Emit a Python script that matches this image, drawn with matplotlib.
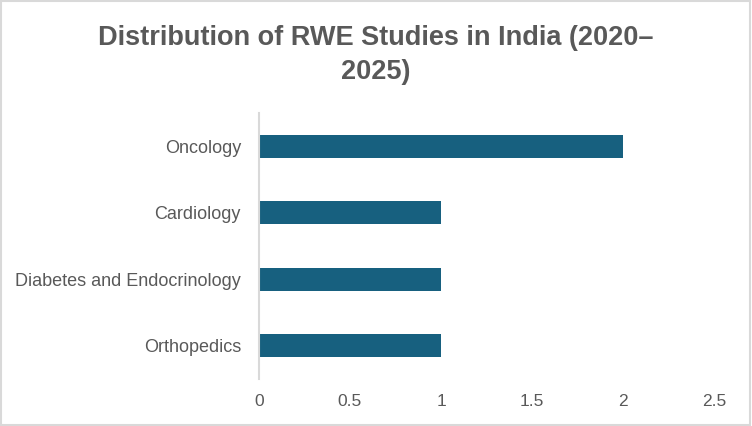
import matplotlib.pyplot as plt
from matplotlib.patches import Rectangle

categories = ['Oncology', 'Cardiology', 'Diabetes and Endocrinology', 'Orthopedics']
studies = [2, 1, 1, 1]
xticks = [0, 0.5, 1, 1.5, 2, 2.5]
xtick_labels = ['0', '0.5', '1', '1.5', '2', '2.5']

TEXT = '#595959'
BAR = '#17607F'

plt.rcParams['font.family'] = ['Liberation Sans', 'DejaVu Sans']

fig = plt.figure(figsize=(7.52, 4.26), dpi=100)
ax = fig.add_axes([259 / 752, 1 - 379 / 426, (714 - 259) / 752, (379 - 113) / 426])

pos = list(range(len(categories)))[::-1]
ax.barh(pos, studies, height=0.35, color=BAR)

ax.set_xlim(0, 2.5)
ax.set_ylim(-0.5, len(categories) - 0.5)
ax.set_xticks(xticks)
ax.set_xticklabels(xtick_labels, color=TEXT, fontsize=12.5)
ax.set_yticks(pos)
ax.set_yticklabels(categories, color=TEXT, fontsize=13)
ax.tick_params(length=0)
ax.tick_params(axis='x', pad=11)
ax.tick_params(axis='y', pad=13)

for s in ['top', 'right', 'bottom']:
    ax.spines[s].set_visible(False)
ax.spines['left'].set_color('#D9D9D9')
ax.spines['left'].set_linewidth(1.5)

title_font = ['Liberation Sans Narrow', 'Liberation Sans', 'DejaVu Sans']
fig.text(0.5, 1 - 38 / 426, 'Distribution of RWE Studies in India (2020\u2013',
         ha='center', va='center', fontsize=19.5, fontweight='bold', color=TEXT,
         family=title_font)
fig.text(0.5, 1 - 72 / 426, '2025)',
         ha='center', va='center', fontsize=19.5, fontweight='bold', color=TEXT,
         family=title_font)

fig.patches.append(Rectangle((0.001, 0.002), 0.997, 0.995, transform=fig.transFigure,
                             fill=False, edgecolor='#D9D9D9', linewidth=1.5))

fig.savefig('out.png', dpi=100)
